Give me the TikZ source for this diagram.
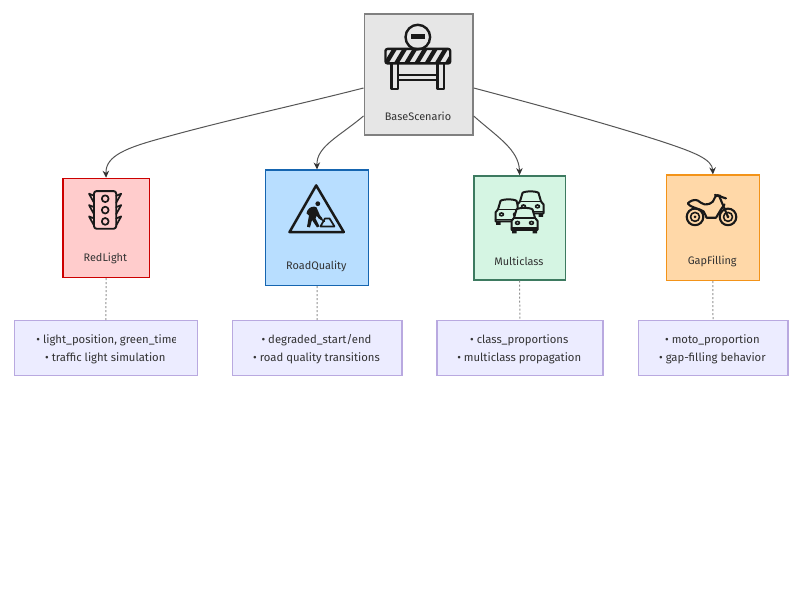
\documentclass[tikz,border=0pt]{standalone}
\usepackage{fontspec}
\setmainfont{Fira Sans}
\usetikzlibrary{arrows.meta,calc}
\definecolor{ink}{HTML}{333333}
\definecolor{edgec}{HTML}{555555}
\definecolor{notef}{HTML}{ECECFF}
\definecolor{notes}{HTML}{B9A9E0}
\definecolor{basef}{HTML}{E6E6E6}
\definecolor{bases}{HTML}{808080}
\definecolor{redf}{HTML}{FFCCCC}
\definecolor{reds}{HTML}{CC0000}
\definecolor{bluef}{HTML}{B8DEFF}
\definecolor{blues}{HTML}{1565B0}
\definecolor{greenf}{HTML}{D5F5E3}
\definecolor{greens}{HTML}{3D7A60}
\definecolor{orangef}{HTML}{FFD8A8}
\definecolor{oranges}{HTML}{F39318}
\tikzset{
  x=1pt,y=-1pt,
  boxn/.style={draw,line width=1.5pt,inner sep=0pt,anchor=north west},
  noten/.style={draw=notes,fill=notef,line width=1.3pt,inner sep=0pt,anchor=north west},
  lab/.style={text=ink,font=\fontsize{11.3}{13}\selectfont,inner sep=0pt,yshift=-1.5pt},
  tag/.style={lab,font=\fontsize{10.9}{13}\selectfont},
  edge/.style={draw=edgec,line width=1pt,-{Stealth[length=7pt,width=6.5pt,color=ink]}},
  dotl/.style={draw=gray!85,line width=1pt,dash pattern=on 2pt off 2pt},
  icon/.style={line width=1.9pt,line join=round,line cap=round,black!90},
  car/.pic={
    \draw[icon,fill=#1,line width=2pt] (-13,10) -- (-13,1) -- (-10.5,-2) -- (-8,-10.5) .. controls (-6,-12.5) and (6,-12.5) .. (8,-10.5) -- (10.5,-2) -- (13,1) -- (13,10) -- cycle;
    \draw[icon,line width=1.7pt] (-10,-2) -- (10,-2);
    \draw[icon,line width=1.6pt] (-13,8) -- (13,8);
    \draw[icon,line width=1.6pt] (-7,3) circle (2 and 1.4) (7,3) circle (2 and 1.4);
    \fill[black!90] (-12.5,10) rectangle (-8,13.5) (8,10) rectangle (12.5,13.5);
  },
  car/.default=white
}
\begin{document}
\begin{tikzpicture}
\useasboundingbox (0,0) rectangle (800,600);
\fill[white] (0,0) rectangle (800,600);
\begin{scope}[xshift=-.5pt,yshift=.6pt]

% main boxes
\node[boxn,draw=bases,fill=basef,minimum width=108.7pt,minimum height=120.7pt] (base) at (364,14) {};
\node[boxn,draw=reds,fill=redf,minimum width=86.3pt,minimum height=99pt] (red) at (62.7,178.3) {};
\node[boxn,draw=blues,fill=bluef,minimum width=103pt,minimum height=115.3pt] (road) at (265.3,170) {};
\node[boxn,draw=greens,fill=greenf,minimum width=91.3pt,minimum height=104pt] (multi) at (473.7,175.7) {};
\node[boxn,draw=oranges,fill=orangef,minimum width=93.3pt,minimum height=105.3pt] (gap) at (666,175) {};

% note boxes
\node[noten,minimum width=183.5pt,minimum height=55pt] (n1) at (14,320.7) {};
\node[noten,minimum width=169.4pt,minimum height=55pt] (n2) at (232.3,320.7) {};
\node[noten,minimum width=166pt,minimum height=55pt] (n3) at (436.7,320.7) {};
\node[noten,minimum width=149.7pt,minimum height=55pt] (n4) at (638,320.7) {};

% connectors
\draw[edge] ([yshift=-13.5pt]base.west) .. controls (300,105) and (230,120) .. (165,138) .. controls (128,148) and (105.8,156) .. (red.north);
\draw[edge] ([yshift=-41.5pt]base.west) .. controls (340,137) and (316.8,147) .. (road.north);
\draw[edge] ([yshift=-41.5pt]base.east) .. controls (497,137) and (519.4,150) .. (multi.north);
\draw[edge] ([yshift=-13.5pt]base.east) .. controls (540,106) and (610,125) .. (665,143) .. controls (695,153) and (712.7,160) .. (gap.north);
\draw[dotl] (red.south) -- (n1.north);
\draw[dotl] (road.south) -- (n2.north);
\draw[dotl] (multi.south) -- (n3.north);
\draw[dotl] (gap.south) -- (n4.north);

% labels
\node[tag] (lbase) at (418.5,115) {BaseScenario};
\node[tag] (lred) at (105.8,258) {RedLight};
\node[tag] (lroad) at (316.8,266) {RoadQuality};
\node[tag] (lmulti) at (519.4,260) {Multiclass};
\node[tag] (lgap) at (712.7,261) {GapFilling};

% note texts
\begin{scope}
\clip (30,330) rectangle (176,348);
\node[lab] (t1a) at (107.5,339) {• light\_position, green\_time};
\end{scope}
\node[lab] (t1b) at (105.8,357) {• traffic light simulation};
\node[lab] (t2a) at (317,339) {• degraded\_start/end};
\node[lab] (t2b) at (317,357) {• road quality transitions};
\node[lab] (t3a) at (519.7,339) {• class\_proportions};
\node[lab] (t3b) at (519.7,357) {• multiclass propagation};
\node[lab] (t4a) at (712.9,339) {• moto\_proportion};
\node[lab] (t4b) at (712.9,357) {• gap-filling behavior};

% barrier icon
\draw[icon,line width=2.4pt] (418.3,37.7) circle (12.3);
\fill[black!90] (411.5,35) rectangle (425.2,40);
\begin{scope}
\clip[rounded corners=2pt] (386,49.5) rectangle (450.7,64);
\foreach \i in {0,...,6}
  \fill[black!90] ({384+\i*10.2},64) -- ({389+\i*10.2},64) -- ({398+\i*10.2},49) -- ({393+\i*10.2},49) -- cycle;
\end{scope}
\draw[icon,line width=2.4pt,rounded corners=2pt] (386,49.5) rectangle (450.7,64);
\draw[icon,line width=2.4pt,line cap=butt] (392,64) -- (392,89.3) -- (398.5,89.3) -- (398.5,64);
\draw[icon,line width=2.4pt,line cap=butt] (438,64) -- (438,89.3) -- (444.5,89.3) -- (444.5,64);
\draw[icon,line width=2pt,line cap=butt] (398.5,75.5) -- (438,75.5) (398.5,80.5) -- (438,80.5);

% traffic light icon
\draw[icon,line width=1.9pt,rounded corners=2.5pt] (94.5,191.7) rectangle (116.7,229.3);
\foreach \cy in {199.3,210.7,222}{
  \draw[icon,line width=1.7pt] (105.7,\cy) circle (3.4);
  \draw[icon,line width=1.7pt] (94.5,{\cy-3}) -- (89.5,{\cy-5}) -- (94.5,{\cy+4});
  \draw[icon,line width=1.7pt] (116.7,{\cy-3}) -- (121.7,{\cy-5}) -- (116.7,{\cy+4});
}

% road works icon
\draw[icon,line width=2.5pt] (316.7,186) -- (290,232.7) -- (344.3,232.7) -- cycle;
\fill[black!90] (318.3,204.3) circle (2.4);
\fill[black!90] (308,211) .. controls (310,207) and (315,206.5) .. (317,208) -- (320.5,216) -- (323,219) -- (321.5,220.5) -- (317,216.5) -- (316,219) -- (320,227) -- (317.5,228) -- (312.5,220.5) -- (310.5,228) -- (307.5,227.5) -- (309.5,216) -- (307,214) -- cycle;
\draw[icon,line width=1.7pt] (321,227) -- (325.5,219) -- (330,219) -- (335,227) -- cycle;
\draw[icon,line width=1.3pt] (319,218) -- (325,222);

% cars icon
\pic at (509,212) {car=greenf};
\pic at (531,204) {car=greenf};
\pic at (525,220.5) {car=greenf};

% motorcycle icon
\foreach \wx in {695.5,728.5}{
  \draw[icon,line width=2.1pt] (\wx,217.5) circle (8.3);
  \draw[icon,line width=1.6pt] (\wx,217.5) circle (4.5);
  \fill[black!90] (\wx,217.5) circle (1.5);
}
\draw[icon,line width=2.1pt] (688.3,204) .. controls (691,201) and (695,200) .. (698,201) .. controls (701,202) and (702,205) .. (705,205) .. controls (709,205) and (712,204) .. (713.3,202.3) -- (716,197) .. controls (717,195.5) and (719,195.5) .. (721,196.5);
\draw[icon,line width=2.1pt] (688.3,204) .. controls (690,208) and (700,209) .. (704,212) .. controls (706,214) and (706,217) .. (707,218.3) -- (716.5,218.3) -- (721.5,210) -- (725,205);
\draw[icon,line width=2.1pt] (720,197.5) -- (728.5,217.5);
\draw[icon,line width=2.1pt] (715.5,195.5) -- (722,197.5) -- (726.5,199);
\end{scope}
\end{tikzpicture}
\end{document}
